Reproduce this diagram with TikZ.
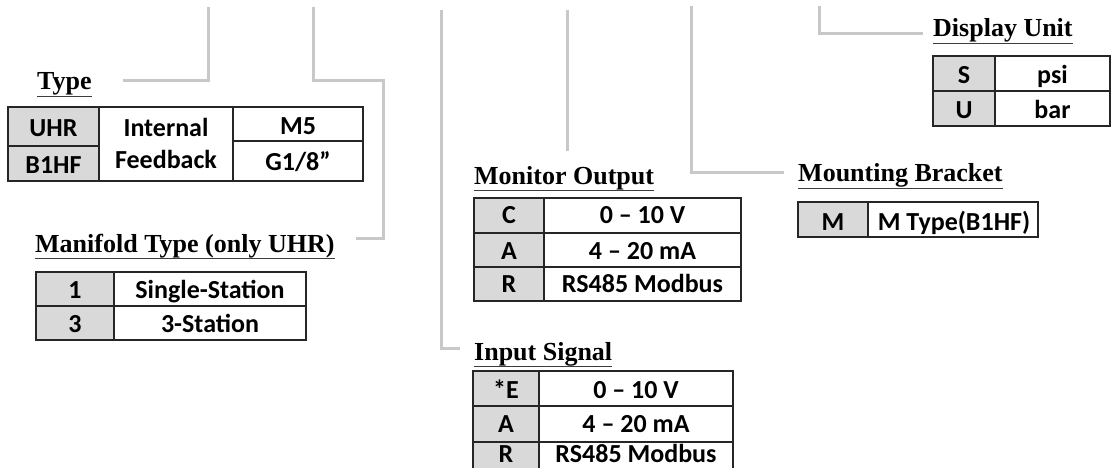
\documentclass[tikz,border=0pt]{standalone}
\usepackage{fontspec}
\setmainfont{Liberation Serif}
\newfontfamily\tabfont{Carlito}
\usetikzlibrary{calc}
\definecolor{figK}{RGB}{217,217,217}
\definecolor{figL}{RGB}{200,200,200}
\definecolor{figU}{RGB}{60,60,60}

\begin{document}
\begin{tikzpicture}[x=1pt,y=-1pt,
  lead/.style={figL,line width=3pt},
  ttl/.style={font=\bfseries\fontsize{26}{30}\selectfont,anchor=base west,inner sep=0pt},
  uline/.style={figU,line width=1.5pt},
  tbl/.style={black!85,line width=1.8pt},
  cell/.style={font=\tabfont\bfseries\fontsize{26}{31}\selectfont,anchor=base,inner sep=0pt}]
\useasboundingbox (0,0) rectangle (1111,468);
% leader lines from the order code
\coordinate (typeTop) at (208,7);   \coordinate (typeEnd) at (123,81);
\coordinate (manTop) at (313,7);    \coordinate (manBend) at (383,81);  \coordinate (manEnd) at (356,238);
\coordinate (inTop) at (441,10);    \coordinate (inEnd) at (460,348);
\coordinate (monTop) at (567,10);   \coordinate (monEnd) at (567,151);
\coordinate (mntTop) at (691,6);    \coordinate (mntEnd) at (784,172);
\coordinate (dspTop) at (819,6);    \coordinate (dspEnd) at (923,34);
\draw[lead] (typeTop) |- (typeEnd);
\draw[lead] (manTop) |- (manBend) |- (manEnd);
\draw[lead] (inTop) |- (inEnd);
\draw[lead] (monTop) -- (monEnd);
\draw[lead] (mntTop) |- (mntEnd);
\draw[lead] (dspTop) |- (dspEnd);
% titles
\foreach \n/\x/\y/\t in {typeL/37/90/Type, manL/35/252/Manifold Type (only UHR), monL/474/184/Monitor Output,
  inL/474/360/Input Signal, mntL/798/182/Mounting Bracket, dspL/933/37/Display Unit}{
  \node[ttl] (\n) at (\x,\y) {\t};
  \draw[uline] ([yshift=-6.5pt]\n.base west) -- ([yshift=-6.5pt]\n.base east);
}
% Type
\fill[figK] (8,107) rectangle (99,181);
\draw[tbl] (8,107) rectangle (363,181);
\draw[tbl] (99,107) -- (99,181) (233,107) -- (233,181) (8,146) -- (99,146) (233,141) -- (363,141);
\node[cell] (tyK1) at (53.5,136.5) {UHR};
\node[cell] (tyK2) at (53.5,174) {B1HF};
\node[cell] (tyMid1) at (166,137) {Internal};
\node[cell] (tyMid2) at (166,168) {Feedback};
\node[cell] (tyV1) at (298,134.5) {M5};
\node[cell] (tyV2) at (298,170) {G1/8”};
% Manifold Type
\fill[figK] (36,272) rectangle (114,340);
\draw[tbl] (36,272) rectangle (306,340);
\draw[tbl] (114,272) -- (114,340) (36,306) -- (306,306);
\foreach \k/\v/\y [count=\i] in {1/Single-Station/298.3, 3/3-Station/332.7}{
  \node[cell] (maK\i) at (75,\y) {\k};
  \node[cell] (maV\i) at (210,\y) {\v};
}
% Monitor Output
\fill[figK] (474,198) rectangle (544,301);
\draw[tbl] (474,198) rectangle (741,301);
\draw[tbl] (544,198) -- (544,301) (474,233) -- (741,233) (474,267) -- (741,267);
\foreach \k/\v/\y [count=\i] in {C/0 – 10 V/223, A/4 – 20 mA/259.3, R/RS485 Modbus/292.7}{
  \node[cell] (moK\i) at (509,\y) {\k};
  \node[cell] (moV\i) at (642.5,\y) {\v};
}
% Input Signal
\fill[figK] (473,371) rectangle (539,476);
\draw[tbl] (473,371) rectangle (733,476);
\draw[tbl] (539,371) -- (539,476) (473,406) -- (733,406) (473,442) -- (733,442);
\foreach \k/\v/\y [count=\i] in {*E/0 – 10 V/398.3, A/4 – 20 mA/432.7, R/RS485 Modbus/462}{
  \node[cell] (isK\i) at (506,\y) {\k};
  \node[cell] (isV\i) at (636,\y) {\v};
}
% Mounting Bracket
\fill[figK] (798,202) rectangle (868,237);
\draw[tbl] (798,202) rectangle (1038,237);
\draw[tbl] (868,202) -- (868,237);
\node[cell] (mbK) at (833,230) {M};
\node[cell] (mbV) at (954,230) {M Type(B1HF)};
% Display Unit
\fill[figK] (933,56) rectangle (995,126);
\draw[tbl] (933,56) rectangle (1110,126);
\draw[tbl] (995,56) -- (995,126) (933,91) -- (1110,91);
\foreach \k/\v/\y [count=\i] in {S/psi/83.3, U/bar/118.3}{
  \node[cell] (duK\i) at (964,\y) {\k};
  \node[cell] (duV\i) at (1052.5,\y) {\v};
}
\end{tikzpicture}
\end{document}
